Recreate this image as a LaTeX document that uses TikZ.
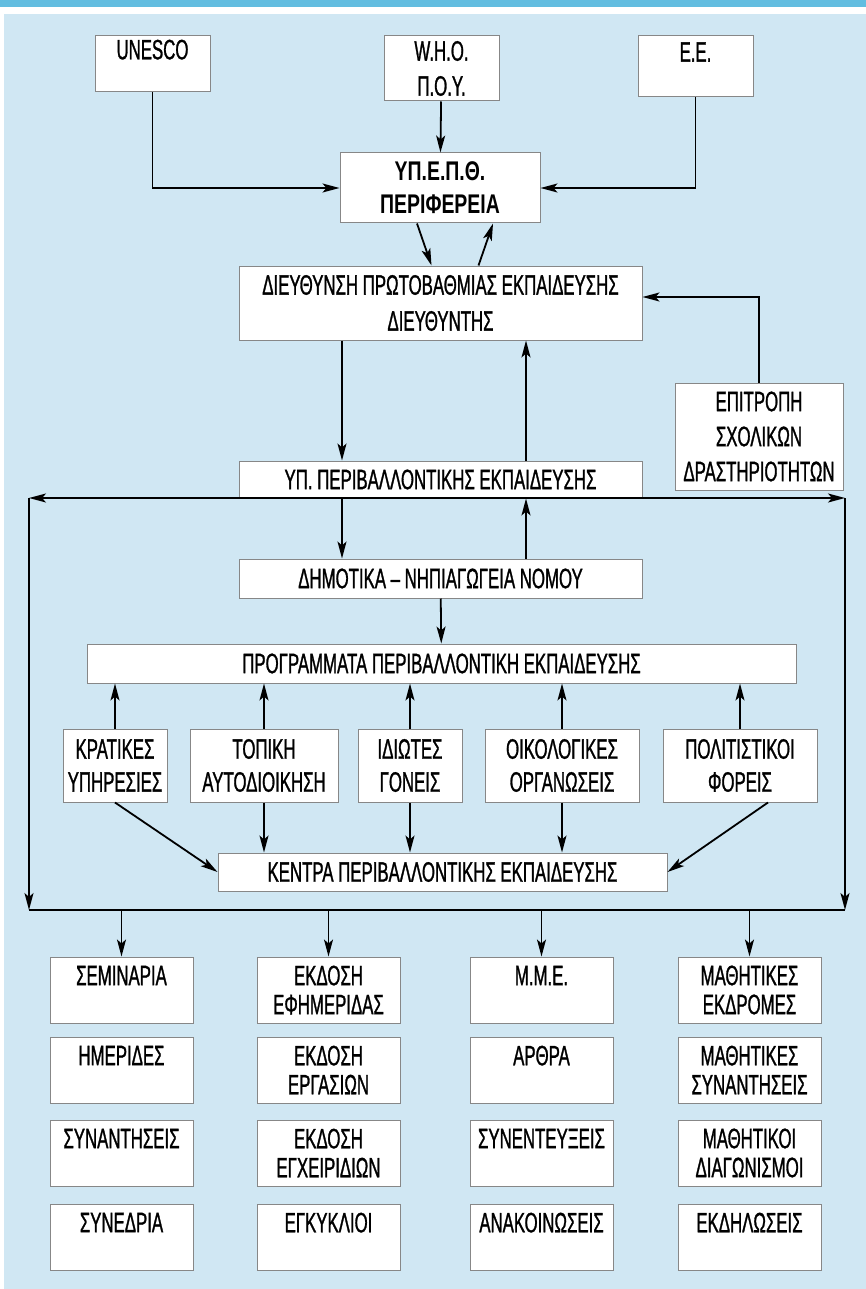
\documentclass[tikz,border=0pt]{standalone}
\usepackage{fontspec}
\setmainfont[FakeStretch=0.6,FakeBold=1]{Liberation Sans}
\newfontfamily\fettschrift[FakeStretch=0.72]{Liberation Sans}
\usepackage{tikz}
\usetikzlibrary{arrows.meta}

\definecolor{streifen}{RGB}{98,189,224}
\definecolor{flaeche}{RGB}{208,231,243}
\definecolor{rahmen}{RGB}{135,135,135}

\begin{document}
\begin{tikzpicture}[x=1pt,y=-1pt,>={Stealth[length=17pt,width=9pt,inset=4pt]},
    kasten/.style={draw=rahmen, line width=1pt, fill=white, align=center, inner sep=0pt,
        font=\fontsize{28}{36}\selectfont},
    eng/.style={font=\fontsize{28}{29}\selectfont},
    mittel/.style={font=\fontsize{28}{33}\selectfont},
    pfeil/.style={->, line width=1.8pt}]

% Hintergrund
\useasboundingbox (0,0) rectangle (866,1289);
\fill[streifen] (0,0) rectangle (866,7);
\fill[flaeche] (4,14) rectangle (866,1289);

% Oberste Ebene
\node[kasten, eng, minimum width=115, minimum height=56] (unesco) at (152.5,64) {UNESCO\\\mbox{}};
\node[kasten, font=\fontsize{28}{35}\selectfont, minimum width=115, minimum height=65] (who) at (441.5,68.5) {W.H.O.\\Π.Ο.Υ.};
\node[kasten, eng, minimum width=115, minimum height=61] (ee) at (695.5,66.5) {Ε.Ε.\\\mbox{}};
\node[kasten, font=\fontsize{27}{33}\fettschrift\bfseries\selectfont, minimum width=200, minimum height=70] (ypepth) at (440,188) {ΥΠ.Ε.Π.Θ.\\ΠΕΡΙΦΕΡΕΙΑ};

% Direktion
\node[kasten, minimum width=403, minimum height=74] (dieft) at (440.5,303) {ΔΙΕΥΘΥΝΣΗ ΠΡΩΤΟΒΑΘΜΙΑΣ ΕΚΠΑΙΔΕΥΣΗΣ\\ΔΙΕΥΘΥΝΤΗΣ};
\node[kasten, font=\fontsize{28}{35}\selectfont, minimum width=168, minimum height=107] (epitr) at (759,436.5) {ΕΠΙΤΡΟΠΗ\\ΣΧΟΛΙΚΩΝ\\ΔΡΑΣΤΗΡΙΟΤΗΤΩΝ};
\node[kasten, minimum width=403, minimum height=37] (ype) at (440.5,479.5) {ΥΠ. ΠΕΡΙΒΑΛΛΟΝΤΙΚΗΣ ΕΚΠΑΙΔΕΥΣΗΣ};
\node[kasten, minimum width=403, minimum height=39] (dimot) at (440.5,578.5) {ΔΗΜΟΤΙΚΑ -- ΝΗΠΙΑΓΩΓΕΙΑ ΝΟΜΟΥ};
\node[kasten, minimum width=709, minimum height=39] (progr) at (441.5,663.5) {ΠΡΟΓΡΑΜΜΑΤΑ ΠΕΡΙΒΑΛΛΟΝΤΙΚΗ ΕΚΠΑΙΔΕΥΣΗΣ};

% Partner
\node[kasten, mittel, minimum width=104, minimum height=73] (kratikes) at (115,765.5) {ΚΡΑΤΙΚΕΣ\\ΥΠΗΡΕΣΙΕΣ};
\node[kasten, mittel, minimum width=148, minimum height=73] (topiki) at (264,765.5) {ΤΟΠΙΚΗ\\ΑΥΤΟΔΙΟΙΚΗΣΗ};
\node[kasten, mittel, minimum width=104, minimum height=73] (idiotes) at (410,765.5) {ΙΔΙΩΤΕΣ\\ΓΟΝΕΙΣ};
\node[kasten, mittel, minimum width=154, minimum height=73] (oikol) at (562,765.5) {ΟΙΚΟΛΟΓΙΚΕΣ\\ΟΡΓΑΝΩΣΕΙΣ};
\node[kasten, mittel, minimum width=154, minimum height=73] (polit) at (740,765.5) {ΠΟΛΙΤΙΣΤΙΚΟΙ\\ΦΟΡΕΙΣ};
\node[kasten, minimum width=449, minimum height=38] (kentra) at (442.5,872) {ΚΕΝΤΡΑ ΠΕΡΙΒΑΛΛΟΝΤΙΚΗΣ ΕΚΠΑΙΔΕΥΣΗΣ};

% Aktivitaeten
\foreach \name/\xpos/\ypos/\txt in {
    sem/121.5/990/{ΣΕΜΙΝΑΡΙΑ\\\mbox{}}, hmer/121.5/1070/{ΗΜΕΡΙΔΕΣ\\\mbox{}},
    syn/121.5/1153/{ΣΥΝΑΝΤΗΣΕΙΣ\\\mbox{}}, syned/121.5/1237/{ΣΥΝΕΔΡΙΑ\\\mbox{}},
    efim/328.5/990/{ΕΚΔΟΣΗ\\ΕΦΗΜΕΡΙΔΑΣ}, erg/328.5/1070/{ΕΚΔΟΣΗ\\ΕΡΓΑΣΙΩΝ},
    egx/328.5/1153/{ΕΚΔΟΣΗ\\ΕΓΧΕΙΡΙΔΙΩΝ}, egk/328.5/1237/{ΕΓΚΥΚΛΙΟΙ\\\mbox{}},
    mme/541.5/990/{Μ.Μ.Ε.\\\mbox{}}, arth/541.5/1070/{ΑΡΘΡΑ\\\mbox{}},
    synent/541.5/1153/{ΣΥΝΕΝΤΕΥΞΕΙΣ\\\mbox{}}, anak/541.5/1237/{ΑΝΑΚΟΙΝΩΣΕΙΣ\\\mbox{}},
    ekdr/749.5/990/{ΜΑΘΗΤΙΚΕΣ\\ΕΚΔΡΟΜΕΣ}, msyn/749.5/1070/{ΜΑΘΗΤΙΚΕΣ\\ΣΥΝΑΝΤΗΣΕΙΣ},
    diag/749.5/1153/{ΜΑΘΗΤΙΚΟΙ\\ΔΙΑΓΩΝΙΣΜΟΙ}, ekdil/749.5/1237/{ΕΚΔΗΛΩΣΕΙΣ\\\mbox{}}}
    \node[kasten, eng, minimum width=143, minimum height=66] (\name) at (\xpos,\ypos) {\txt};

% Verbindungen oben
\draw[pfeil] (unesco.south) |- (ypepth.west);
\draw[pfeil] (ee.south) |- (ypepth.east);
\draw[pfeil] (who) -- (ypepth);
\draw[pfeil] ([xshift=-23]ypepth.south) -- ([xshift=-9]dieft.north);
\draw[pfeil] ([xshift=38]dieft.north) -- ([xshift=53]ypepth.south);
\draw[pfeil] (epitr.north) |- ([yshift=6]dieft.east);
\draw[pfeil] ([xshift=-98.5]dieft.south) -- ([xshift=-98.5]ype.north);
\draw[pfeil] ([xshift=85.5]ype.north) -- ([xshift=85.5]dieft.south);

% Sammelschiene
\coordinate (busL) at (29,498);
\coordinate (busR) at (845,498);
\coordinate (untenL) at (29,910);
\coordinate (untenR) at (845,910);
\draw[line width=1.8pt, <->] (busL) -- (busR);
\draw[pfeil] (busL) -- (untenL);
\draw[pfeil] (busR) -- (untenR);
\draw[line width=1.8pt] (untenL) -- (untenR);

% Mitte
\draw[pfeil] ([xshift=-98.5]ype.south) -- ([xshift=-98.5]dimot.north);
\draw[pfeil] ([xshift=85.5]dimot.north) -- ([xshift=85.5]ype.south);
\draw[pfeil] (dimot) -- (progr);
\foreach \p in {kratikes,topiki,idiotes,oikol,polit}
    \draw[pfeil] (\p.north) -- (\p.north |- progr.south);
\draw[pfeil] (kratikes.south) -- (kentra.west);
\draw[pfeil] ([xshift=28]polit.south) -- (kentra.east);
\foreach \p in {topiki,idiotes,oikol}
    \draw[pfeil] (\p.south) -- (\p.south |- kentra.north);

% Nach unten
\foreach \p in {sem,efim,mme,ekdr}
    \draw[pfeil] (\p.north |- untenL) -- (\p.north);

\end{tikzpicture}
\end{document}
